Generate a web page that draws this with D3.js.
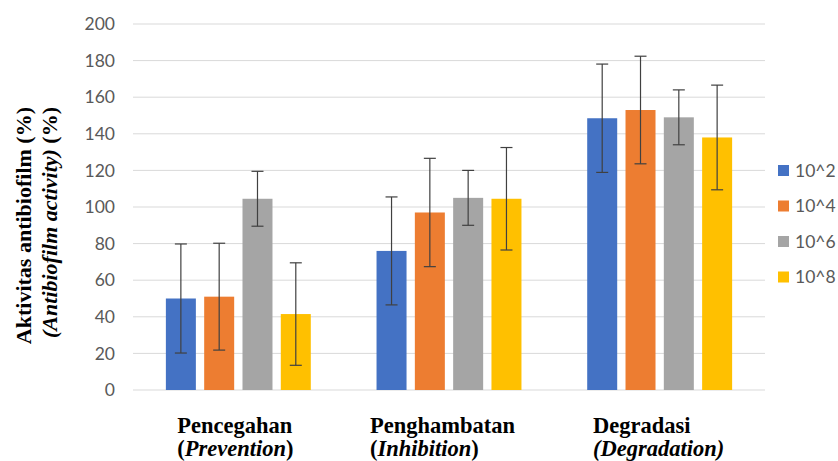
<!DOCTYPE html>
<html>
<head>
<meta charset="utf-8">
<script src="https://cdn.jsdelivr.net/npm/d3@7"></script>
<style>
  html, body { margin: 0; padding: 0; background: #fff; }
  svg { display: block; }
  .serif { font-family: "Times New Roman", "Liberation Serif", Tinos, Times, "DejaVu Serif", serif; font-weight: bold; }
</style>
</head>
<body>
<svg id="chart" width="838" height="461"></svg>
<script>
// ---- data ----
const categories = ["Pencegahan", "Penghambatan", "Degradasi"];
const categoryEnglish = ["Prevention", "Inhibition", "Degradation"];
const seriesNames = ["10^2", "10^4", "10^6", "10^8"];
const values_10_2 = [50, 76, 148.5];
const values_10_4 = [51, 97, 153];
const values_10_6 = [104.5, 105, 149];
const values_10_8 = [41.5, 104.5, 138];
const errors_10_2 = [29.8, 29.5, 29.6];
const errors_10_4 = [29.2, 29.6, 29.4];
const errors_10_6 = [15, 15, 15];
const errors_10_8 = [28, 28, 28.6];
const yTicks = [0, 20, 40, 60, 80, 100, 120, 140, 160, 180, 200];

const seriesValues = [values_10_2, values_10_4, values_10_6, values_10_8];
const seriesErrors = [errors_10_2, errors_10_4, errors_10_6, errors_10_8];
const colors = ["#4472C4", "#ED7D31", "#A5A5A5", "#FFC000"];

const svg = d3.select("#chart");
const plotLeft = 133, plotRight = 765, plotTop = 24, plotBottom = 390;

const x0 = d3.scaleBand().domain(categories).range([plotLeft, plotRight]).padding(0);
const x1 = d3.scaleBand().domain(seriesNames).range([0, x0.bandwidth()])
  .paddingInner(0.217).paddingOuter(0.858);
const y = d3.scaleLinear().domain([0, 200]).range([plotBottom, plotTop]);

// gridlines
svg.append("g").selectAll("line").data(yTicks).join("line")
  .attr("x1", plotLeft).attr("x2", plotRight)
  .attr("y1", d => y(d)).attr("y2", d => y(d))
  .attr("stroke", "#d9d9d9").attr("stroke-width", 1);

// y axis tick labels
const yAxis = d3.axisLeft(y).tickValues(yTicks).tickSize(0).tickPadding(18);
const yg = svg.append("g").attr("transform", `translate(${plotLeft},0)`).call(yAxis);
yg.select(".domain").remove();
yg.selectAll("text")
  .attr("font-family", "Lato, 'Open Sans', sans-serif")
  .attr("font-size", "17.5px")
  .attr("fill", "#595959");

// data table
const table = [];
categories.forEach((c, i) => {
  seriesNames.forEach((s, j) => {
    table.push({ cat: c, ser: s, v: seriesValues[j][i], e: seriesErrors[j][i], color: colors[j] });
  });
});

// bars
svg.append("g").selectAll("rect").data(table).join("rect")
  .attr("x", d => x0(d.cat) + x1(d.ser))
  .attr("width", x1.bandwidth())
  .attr("y", d => y(d.v))
  .attr("height", d => y(0) - y(d.v))
  .attr("fill", d => d.color);

// error bars
const eg = svg.append("g").attr("stroke", "#404040").attr("stroke-width", 1.2);
const cap = 6;
table.forEach(d => {
  const cx = x0(d.cat) + x1(d.ser) + x1.bandwidth() / 2;
  const yt = y(d.v + d.e), yb = y(d.v - d.e);
  eg.append("line").attr("x1", cx).attr("x2", cx).attr("y1", yt).attr("y2", yb);
  eg.append("line").attr("x1", cx - cap).attr("x2", cx + cap).attr("y1", yt).attr("y2", yt);
  eg.append("line").attr("x1", cx - cap).attr("x2", cx + cap).attr("y1", yb).attr("y2", yb);
});

// category labels (two lines, left aligned block centered on group)
categories.forEach((c, i) => {
  const g = svg.append("g");
  const t1 = g.append("text").attr("class", "serif").attr("y", 433)
    .style("font-size", "22.5px").attr("fill", "#000").text(c);
  const t2 = g.append("text").attr("class", "serif").attr("y", 456)
    .style("font-size", "22.5px").attr("fill", "#000");
  if (i === 2) {
    t2.append("tspan").style("font-style", "italic").text("(" + categoryEnglish[i] + ")");
  } else {
    t2.append("tspan").text("(");
    t2.append("tspan").style("font-style", "italic").text(categoryEnglish[i]);
    t2.append("tspan").text(")");
  }
  const w = Math.max(t1.node().getComputedTextLength(), t2.node().getComputedTextLength());
  const cx = x0(c) + x0.bandwidth() / 2;
  const offs = [-3, -6.5, -1];
  g.attr("transform", `translate(${cx - w / 2 + offs[i]},0)`);
});

// y axis title
const ytg = svg.append("g").attr("transform", "translate(0,107) rotate(-90)");
ytg.append("text").attr("class", "serif").attr("x", 0).attr("y", 31).attr("text-anchor", "end")
  .style("font-size", "22px").attr("fill", "#000").text("Aktivitas antibiofilm (%)");
const yt2 = ytg.append("text").attr("class", "serif").attr("x", 0).attr("y", 57).attr("text-anchor", "end")
  .style("font-size", "22px").attr("fill", "#000");
yt2.append("tspan").style("font-style", "italic").text("(Antibiofilm activity)");
yt2.append("tspan").text(" (%)");

// legend
const lg = svg.append("g");
seriesNames.forEach((s, j) => {
  const cy = 170.5 + j * 35.5;
  lg.append("rect").attr("x", 778).attr("y", cy - 5.5).attr("width", 11).attr("height", 11)
    .attr("fill", colors[j]);
  lg.append("text").attr("x", 795).attr("y", cy).attr("dy", "0.36em")
    .attr("font-family", "Lato, 'Open Sans', sans-serif").attr("font-size", "17.5px")
    .attr("fill", "#595959").text(s);
});
</script>
</body>
</html>
